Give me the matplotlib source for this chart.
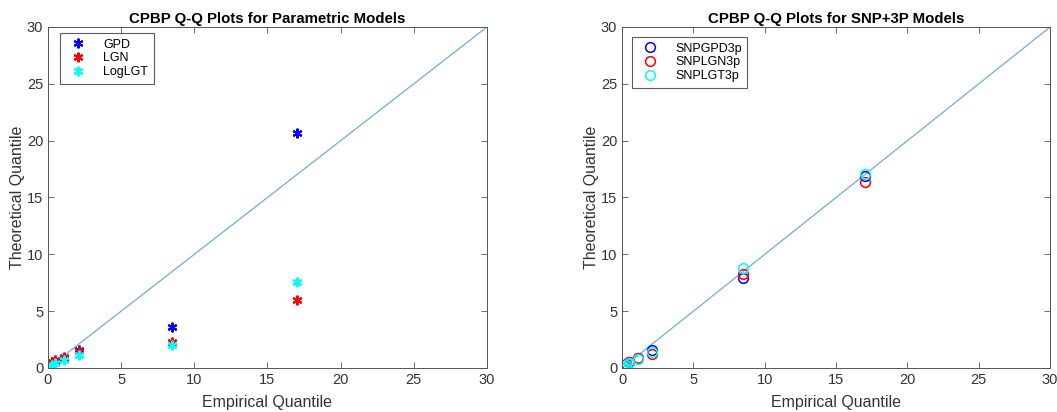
import matplotlib
matplotlib.use("Agg")
import matplotlib.pyplot as plt

plt.rcParams['font.family'] = ['Liberation Sans', 'DejaVu Sans']

# empirical quantiles (shared x)
emp = [0.05, 0.1, 0.2, 0.3, 0.5, 1.1, 2.1, 8.5, 17.0]

# parametric models
gpd = [0.05, 0.12, 0.25, 0.4, 0.6, 0.9, 1.6, 3.6, 20.7]
lgn = [0.1, 0.2, 0.35, 0.5, 0.7, 1.0, 1.5, 2.3, 6.0]
loglgt = [0.02, 0.05, 0.12, 0.2, 0.4, 0.7, 1.1, 2.0, 7.6]

# SNP+3P models
snpgpd = [0.05, 0.1, 0.2, 0.35, 0.55, 0.9, 1.6, 7.9, 16.9]
snplgn = [0.04, 0.1, 0.2, 0.3, 0.5, 0.85, 1.2, 8.3, 16.4]
snplgt = [0.02, 0.05, 0.12, 0.22, 0.4, 0.8, 1.4, 8.8, 17.1]

ticks = [0, 5, 10, 15, 20, 25, 30]
ref = [0, 30]
refcol = '#6aaedb'
axcol = '#555555'
txtcol = '#333333'

fig = plt.figure(figsize=(10.57, 4.12), dpi=100)
ax1 = fig.add_axes([0.0454, 0.1068, 0.4153, 0.8277])
ax2 = fig.add_axes([0.5885, 0.1068, 0.405, 0.8277])

ast = (6, 2, 0)

ax1.plot(ref, ref, color=refcol, lw=0.9, zorder=1)
ax1.plot(emp, gpd, ls='none', marker=ast, color='blue', ms=7, mew=1.5, label='GPD')
ax1.plot(emp, lgn, ls='none', marker=ast, color='red', ms=7, mew=1.5, label='LGN')
ax1.plot(emp, loglgt, ls='none', marker=ast, color='cyan', ms=7, mew=1.5, label='LogLGT')
ax1.set_title('CPBP Q-Q Plots for Parametric Models', fontsize=10.8, fontweight='bold', pad=3)

ax2.plot(ref, ref, color=refcol, lw=0.9, zorder=1)
ax2.plot(emp, snpgpd, ls='none', marker='o', mfc='none', mec='blue', ms=7, mew=1.1, label='SNPGPD3p')
ax2.plot(emp, snplgn, ls='none', marker='o', mfc='none', mec='red', ms=7, mew=1.1, label='SNPLGN3p')
ax2.plot(emp, snplgt, ls='none', marker='o', mfc='none', mec='cyan', ms=7, mew=1.1, label='SNPLGT3p')
ax2.set_title('CPBP Q-Q Plots for SNP+3P Models', fontsize=10.8, fontweight='bold', pad=3)

anchors = {ax1: (12 / 439, 1 - 6 / 341), ax2: (10 / 428, 1 - 10 / 341)}

for ax in (ax1, ax2):
    ax.set_xlim(0, 30)
    ax.set_ylim(0, 30)
    ax.set_xticks(ticks)
    ax.set_yticks(ticks)
    ax.tick_params(direction='in', top=True, right=True, length=4, width=0.6,
                   colors=axcol, labelcolor=txtcol, labelsize=10.5)
    for s in ax.spines.values():
        s.set_color(axcol)
        s.set_linewidth(0.7)
    ax.set_xlabel('Empirical Quantile', fontsize=11.5, color=txtcol, labelpad=6)
    ax.set_ylabel('Theoretical Quantile', fontsize=11.5, color=txtcol, labelpad=1)
    leg = ax.legend(loc='upper left', bbox_to_anchor=anchors[ax], borderaxespad=0,
                    fontsize=9, frameon=True, fancybox=False,
                    handletextpad=1.0, labelspacing=0.15,
                    borderpad=0.45, handlelength=2.0)
    leg.get_frame().set_edgecolor('#333333')
    leg.get_frame().set_linewidth(0.8)

fig.savefig('out.png', dpi=100)
